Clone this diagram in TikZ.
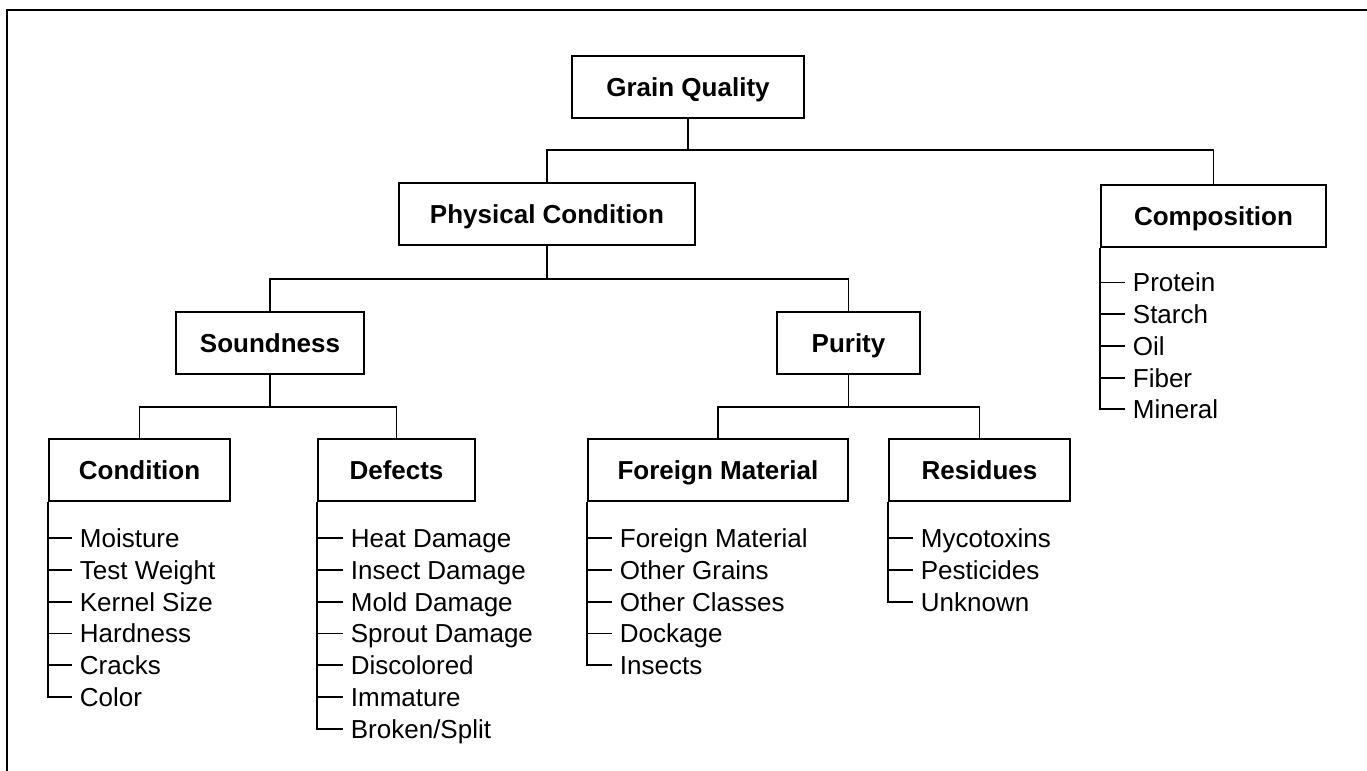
\documentclass[tikz,border=0pt]{standalone}
\usepackage{fontspec}
\setmainfont{Liberation Sans}
\usetikzlibrary{positioning}

\begin{document}
\begin{tikzpicture}[x=0.5pt, y=-0.5pt, line width=0.9pt,
        box/.style={draw, line width=1pt, minimum height=31pt, inner sep=0pt,
            text height=11.4pt, text depth=1.6pt,
            font=\fontsize{13}{15}\selectfont\bfseries},
        item/.style={anchor=west, inner sep=0pt, text height=9.4pt, text depth=0pt,
            font=\fontsize{13}{15}\selectfont}]
        \useasboundingbox (0,0) rectangle (1367,771);
        \draw[line width=1pt] (7,771) -- (7,9.5) -- (1367,9.5);

        \node[box, minimum width=116pt] (gq) at (688,86.5) {Grain Quality};
        \node[box, minimum width=148pt] (pc) at (547,214) {Physical Condition};
        \node[box, minimum width=112.5pt] (comp) at (1213.5,215.5) {Composition};
        \node[box, minimum width=94pt] (snd) at (270,342.5) {Soundness};
        \node[box, minimum width=71.5pt] (pur) at (848.5,342.5) {Purity};
        \node[box, minimum width=90.5pt] (cond) at (139.5,470) {Condition};
        \node[box, minimum width=78.5pt] (def) at (396.5,470) {Defects};
        \node[box, minimum width=130pt] (fm) at (718,470) {Foreign Material};
        \node[box, minimum width=90.5pt] (res) at (979.5,470) {Residues};

        \coordinate (bus1) at (0,150);
        \coordinate (bus2) at (0,279);
        \coordinate (bus3) at (0,407);

        \draw (gq.south) -- (gq.south |- bus1);
        \draw (pc.north) |- (comp.north |- bus1) -- (comp.north);
        \draw (pc.south) -- (pc.south |- bus2);
        \draw (snd.north) |- (pur.north |- bus2) -- (pur.north);
        \draw (snd.south) -- (snd.south |- bus3);
        \draw (cond.north) |- (def.north |- bus3) -- (def.north);
        \draw (pur.south) -- (pur.south |- bus3);
        \draw (fm.north) |- (res.north |- bus3) -- (res.north);

        % lists under the boxes
        \foreach \t [count=\i] in {Protein, Starch, Oil, Fiber, Mineral} {
            \node[item] (comp-\i) at ([shift={(32,{35+31.7*(\i-1)})}]comp.south west) {\t};
            \draw (comp.south west |- comp-\i.west) -- ([xshift=-3.5pt]comp-\i.west);
        }
        \draw (comp.south west) |- ([xshift=-3.5pt]comp-5.west);

        \foreach \t [count=\i] in {Moisture, Test Weight, Kernel Size, Hardness, Cracks, Color} {
            \node[item] (cond-\i) at ([shift={(31,{36+31.8*(\i-1)})}]cond.south west) {\t};
            \draw (cond.south west |- cond-\i.west) -- ([xshift=-3.5pt]cond-\i.west);
        }
        \draw (cond.south west) |- ([xshift=-3.5pt]cond-6.west);

        \foreach \t [count=\i] in {Heat Damage, Insect Damage, Mold Damage, Sprout Damage,
                Discolored, Immature, Broken/Split} {
            \node[item] (def-\i) at ([shift={(33,{36+31.8*(\i-1)})}]def.south west) {\t};
            \draw (def.south west |- def-\i.west) -- ([xshift=-3.5pt]def-\i.west);
        }
        \draw (def.south west) |- ([xshift=-3.5pt]def-7.west);

        \foreach \t [count=\i] in {Foreign Material, Other Grains, Other Classes, Dockage, Insects} {
            \node[item] (fm-\i) at ([shift={(32,{36+31.8*(\i-1)})}]fm.south west) {\t};
            \draw (fm.south west |- fm-\i.west) -- ([xshift=-3.5pt]fm-\i.west);
        }
        \draw (fm.south west) |- ([xshift=-3.5pt]fm-5.west);

        \foreach \t [count=\i] in {Mycotoxins, Pesticides, Unknown} {
            \node[item] (res-\i) at ([shift={(32,{36+31.8*(\i-1)})}]res.south west) {\t};
            \draw (res.south west |- res-\i.west) -- ([xshift=-3.5pt]res-\i.west);
        }
        \draw (res.south west) |- ([xshift=-3.5pt]res-3.west);
    \end{tikzpicture}
\end{document}
